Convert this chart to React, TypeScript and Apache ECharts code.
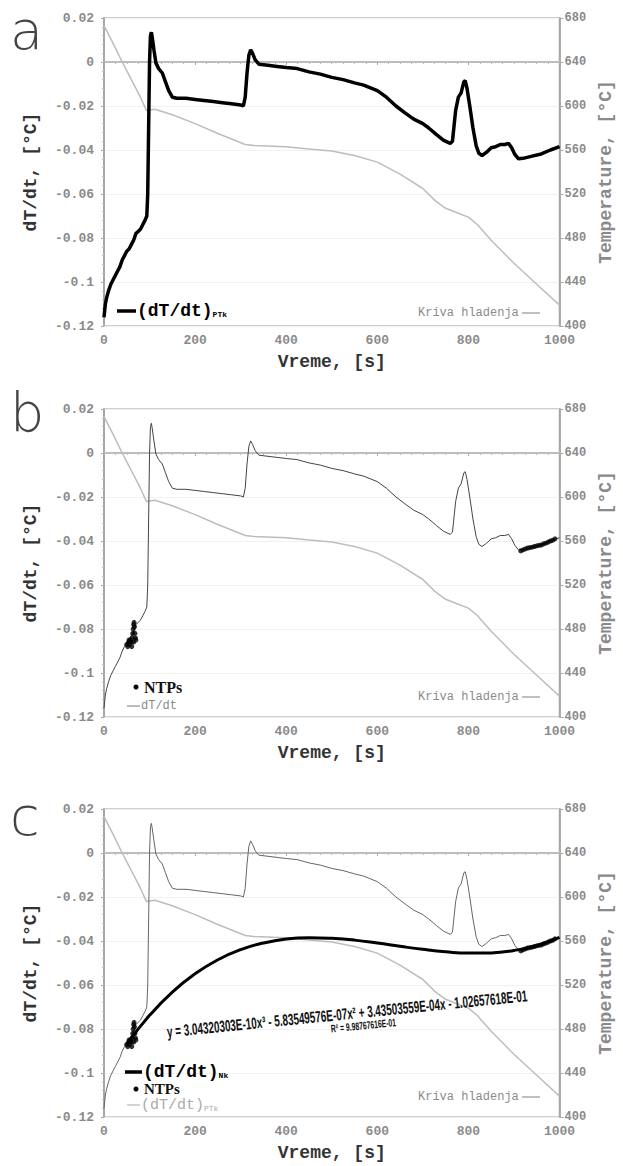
import React, { useEffect, useRef } from "react";
import * as echarts from "echarts";

// ---- data ----
const tempTime = [0, 20, 40, 60, 80, 93, 112, 150, 200, 250, 310, 330, 400, 450, 500, 550, 600, 650, 700, 727, 750, 775, 800, 820, 850, 900, 950, 1000];
const tempValue = [673, 657, 640, 624, 608, 596, 597, 592, 584, 575, 565, 564, 563, 561, 559, 555, 549, 538, 525, 514, 507, 503, 499, 492, 478, 457, 438, 419];

const rateTime = [0, 3, 6, 10, 15, 20, 25, 30, 35, 40, 45, 50, 55, 60, 65, 70, 75, 80, 85, 90, 94, 96, 98, 100, 102, 104, 106, 110, 114, 120, 128, 135, 142, 150, 160, 180, 200, 220, 240, 260, 280, 300, 306, 310, 314, 318, 322, 326, 332, 340, 360, 380, 400, 424, 450, 475, 500, 525, 550, 570, 600, 620, 641, 660, 680, 700, 713, 730, 745, 760, 765, 772, 778, 784, 790, 793, 797, 803, 810, 817, 823, 830, 840, 850, 860, 870, 880, 888, 895, 902, 910, 920, 940, 960, 980, 1000];
const rateValue = [-0.116, -0.11, -0.107, -0.104, -0.101, -0.099, -0.097, -0.095, -0.093, -0.09, -0.088, -0.086, -0.085, -0.083, -0.081, -0.078, -0.077, -0.076, -0.074, -0.072, -0.07, -0.06, -0.03, 0.0, 0.012, 0.0135, 0.011, 0.005, -0.0005, -0.003, -0.005, -0.009, -0.013, -0.016, -0.0165, -0.0165, -0.017, -0.0175, -0.018, -0.0185, -0.019, -0.0195, -0.02, -0.016, -0.005, 0.003, 0.0055, 0.004, 0.001, -0.001, -0.0015, -0.002, -0.0025, -0.003, -0.0045, -0.0055, -0.007, -0.008, -0.0095, -0.0105, -0.013, -0.016, -0.02, -0.023, -0.026, -0.028, -0.03, -0.033, -0.0355, -0.037, -0.036, -0.022, -0.016, -0.014, -0.009, -0.0085, -0.012, -0.02, -0.03, -0.038, -0.0415, -0.0425, -0.041, -0.039, -0.0385, -0.0375, -0.0375, -0.037, -0.039, -0.042, -0.044, -0.0438, -0.0428, -0.0418, -0.04, -0.0385];

const ntpTime = [50, 52, 54, 55, 56, 58, 60, 61, 62, 63, 64, 65, 65, 66, 67, 68, 69, 70, 915, 920, 925, 930, 935, 940, 945, 950, 955, 960, 965, 970, 975, 980, 985, 990];
const ntpValue = [-0.087, -0.088, -0.086, -0.085, -0.087, -0.085, -0.086, -0.088, -0.084, -0.082, -0.08, -0.078, -0.086, -0.077, -0.079, -0.082, -0.084, -0.085, -0.0445, -0.044, -0.0436, -0.0432, -0.043, -0.0428, -0.0425, -0.0422, -0.042, -0.0418, -0.0413, -0.041, -0.0405, -0.04, -0.0397, -0.039];

const fitTime = [50, 100, 150, 200, 250, 300, 350, 400, 450, 500, 550, 600, 650, 700, 750, 800, 850, 900, 950, 1000];
const fitValue = [-0.0869, -0.0738, -0.0632, -0.0549, -0.0485, -0.0439, -0.0409, -0.0391, -0.0385, -0.0388, -0.0396, -0.0409, -0.0424, -0.0438, -0.0449, -0.0455, -0.0454, -0.0443, -0.0421, -0.0384];

const xTicks = { min: 0, max: 1000, interval: 200 };
const leftTicks = { min: -0.12, max: 0.02, interval: 0.02 };
const rightTicks = { min: 400, max: 680, interval: 40 };

const xName = "Vreme, [s]";
const leftName = "dT/dt, [°C]";
const rightName = "Temperature, [°C]";
const equationText = "y = 3.04320303E-10x³ - 5.83549576E-07x² + 3.43503559E-04x - 1.02657618E-01";
const r2Text = "R² = 9.98767616E-01";

const pairs = (xs: number[], ys: number[]) => xs.map((x, i) => [x, ys[i]]);

const MONO = "Liberation Mono";
const gridTops = [18, 409, 809];
const GRID_H = 308;

export default function App() {
  const ref = useRef<HTMLDivElement>(null);
  useEffect(() => {
    if (!ref.current) return;
    const chart = echarts.init(ref.current, undefined, { renderer: "svg" });

    const grid = gridTops.map((top) => ({
      left: 104, width: 462, top, height: GRID_H,
      show: true, borderColor: "#cfcfcf", borderWidth: 2, backgroundColor: "transparent",
    }));

    const xAxis = gridTops.map((_, i) => ({
      type: "value", gridIndex: i, ...xTicks,
      name: xName, nameLocation: "middle", nameGap: 27,
      nameTextStyle: { fontFamily: MONO, fontWeight: "bold", fontSize: 18, color: "#333" },
      axisLine: { show: true, lineStyle: { color: "#bdbdbd", width: 2 } },
      axisTick: { show: true, length: 3, lineStyle: { color: "#aaa" } },
      minorTick: { show: true, splitNumber: 8, length: 2, lineStyle: { color: "#bbb" } },
      axisLabel: { fontFamily: MONO, fontSize: 13, fontWeight: "bold", color: "#8a8a8a", margin: 8, formatter: (v: number) => String(v) },
      splitLine: { show: false },
    }));

    const yAxis: any[] = [];
    gridTops.forEach((_, i) => {
      yAxis.push({
        type: "value", gridIndex: i, position: "left", ...leftTicks,
        name: leftName, nameLocation: "middle", nameGap: 64, nameRotate: 90,
        nameTextStyle: { fontFamily: MONO, fontWeight: "bold", fontSize: 18, color: "#333" },
        axisLine: { show: true, lineStyle: { color: "#9a9a9a", width: 1.5 } },
        axisTick: { show: true, length: 3, lineStyle: { color: "#aaa" } },
        minorTick: { show: true, splitNumber: 5, length: 2, lineStyle: { color: "#bbb" } },
        axisLabel: {
          fontFamily: MONO, fontSize: 13, fontWeight: "bold", color: "#8a8a8a", margin: 10,
          formatter: (v: number) => { const r = Math.round(v * 100) / 100; return r === 0 ? "0" : String(r); },
        },
        splitLine: { show: true, lineStyle: { color: "#f1f1f1", width: 1 } },
      });
      yAxis.push({
        type: "value", gridIndex: i, position: "right", ...rightTicks,
        name: rightName, nameLocation: "middle", nameGap: 36, nameRotate: 90,
        nameTextStyle: { fontFamily: MONO, fontWeight: "bold", fontSize: 18, color: "#8a8a8a" },
        axisLine: { show: true, lineStyle: { color: "#9a9a9a", width: 1.5 } },
        axisTick: { show: true, length: 4, lineStyle: { color: "#aaa" } },
        axisLabel: { fontFamily: MONO, fontSize: 12, fontWeight: "bold", color: "#8a8a8a", margin: 5 },
        splitLine: { show: false },
      });
    });

    const tempData = pairs(tempTime, tempValue);
    const rateData = pairs(rateTime, rateValue);
    const ntpData = pairs(ntpTime, ntpValue);
    const fitData = pairs(fitTime, fitValue);

    const series: any[] = [];
    gridTops.forEach((_, i) => {
      series.push({
        type: "line", xAxisIndex: i, yAxisIndex: i * 2 + 1, data: tempData,
        showSymbol: false, lineStyle: { color: "#bdbdbd", width: 1.5 }, z: 2,
      });
    });
    // panel a
    series.push({ type: "line", xAxisIndex: 0, yAxisIndex: 0, data: rateData, showSymbol: false, lineStyle: { color: "#000", width: 3.5 }, z: 3 });
    // panel b
    series.push({ type: "line", xAxisIndex: 1, yAxisIndex: 2, data: rateData, showSymbol: false, lineStyle: { color: "#444", width: 1 }, z: 3 });
    series.push({ type: "scatter", xAxisIndex: 1, yAxisIndex: 2, data: ntpData, symbol: "circle", symbolSize: 5, itemStyle: { color: "#000" }, z: 4 });
    // panel c
    series.push({ type: "line", xAxisIndex: 2, yAxisIndex: 4, data: rateData, showSymbol: false, lineStyle: { color: "#666", width: 1 }, z: 3 });
    series.push({ type: "scatter", xAxisIndex: 2, yAxisIndex: 4, data: ntpData, symbol: "circle", symbolSize: 5, itemStyle: { color: "#000" }, z: 4 });
    series.push({ type: "line", xAxisIndex: 2, yAxisIndex: 4, data: fitData, smooth: true, showSymbol: false, lineStyle: { color: "#000", width: 3 }, z: 5 });

    const txt = (text: string, x: number, y: number, font: string, fill: string, extra: any = {}) => ({
      type: "text", x, y, z: 100,
      style: { text, font, fill, textAlign: "left", textVerticalAlign: "middle", align: "left", verticalAlign: "middle", ...extra },
    });
    const ln = (x1: number, y: number, x2: number, stroke: string, w: number) => ({
      type: "line", z: 100, shape: { x1, y1: y, x2, y2: y }, style: { stroke, lineWidth: w },
    });
    const richLabel = (main: string, sub: string, x: number, y: number, color: string, weight: string, size: number) => ({
      type: "text", x, y, z: 100,
      style: {
        text: `{m|${main}}{s|${sub}}`, textVerticalAlign: "middle", verticalAlign: "middle",
        rich: {
          m: { fontFamily: MONO, fontWeight: weight, fontSize: size, fill: color, color },
          s: { fontFamily: MONO, fontWeight: weight, fontSize: 8, fill: color, color, padding: [7, 0, 0, 0] },
        },
      },
    });
    const kriva = (y: number) => [
      txt("Kriva hladenja", 418, y, `12px ${MONO}`, "#8a8a8a"),
      ln(522, y, 540, "#aaa", 1.5),
    ];
    const letter = (t: string, y: number) => txt(t, 10, y, `200 54px "DejaVu Sans", "Liberation Sans"`, "#444");

    const graphic = [
      letter("a", 30),
      letter("b", 412),
      letter("c", 816),
      // panel a legend
      ln(117, 311, 136, "#000", 3.5),
      richLabel("(dT/dt)", "PTk", 137, 311, "#000", "bold", 18),
      ...kriva(313),
      // panel b legend
      { type: "circle", z: 100, shape: { cx: 136, cy: 687, r: 2.5 }, style: { fill: "#000" } },
      txt("NTPs", 144, 687, `bold 16px "Liberation Serif"`, "#111"),
      ln(127, 706, 140, "#777", 1),
      txt("dT/dt", 141, 706, `12px ${MONO}`, "#888"),
      ...kriva(697),
      // panel c legend
      ln(125, 1072, 142, "#000", 3.5),
      richLabel("(dT/dt)", "Nk", 143, 1072, "#000", "bold", 18),
      { type: "circle", z: 100, shape: { cx: 136, cy: 1089, r: 2.5 }, style: { fill: "#000" } },
      txt("NTPs", 144, 1089, `bold 15px "Liberation Serif"`, "#111"),
      ln(127, 1105, 140, "#aaa", 1),
      richLabel("(dT/dt)", "PTk", 141, 1105, "#aaa", "normal", 15),
      ...kriva(1097),
      // fit equation
      {
        type: "text", x: 167, y: 1032, rotation: 0.1, scaleX: 0.62, z: 100,
        style: { text: equationText, font: `bold 16px "Liberation Sans"`, fill: "#111", textVerticalAlign: "middle", verticalAlign: "middle" },
      },
      {
        type: "text", x: 331, y: 1029, rotation: 0.1, scaleX: 0.62, z: 100,
        style: { text: r2Text, font: `bold 11px "Liberation Sans"`, fill: "#111", textVerticalAlign: "middle", verticalAlign: "middle" },
      },
    ];

    chart.setOption({
      animation: false,
      backgroundColor: "#fff",
      grid, xAxis, yAxis, series, graphic,
    });
    return () => chart.dispose();
  }, []);
  return <div ref={ref} style={{ position: "absolute", left: 0, top: 0, width: 623, height: 1166 }} />;
}
